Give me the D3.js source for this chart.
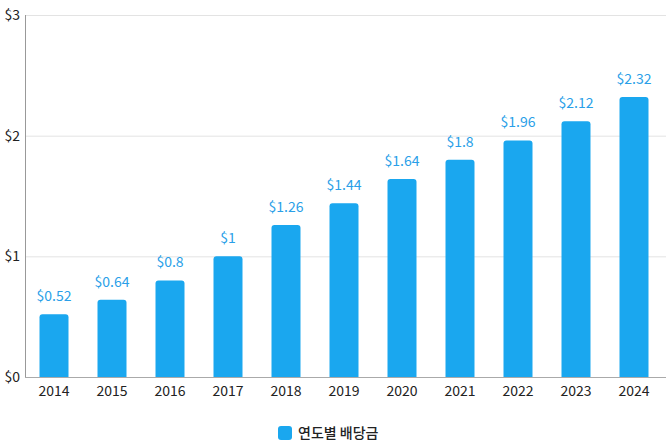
<!DOCTYPE html>
<html><head><meta charset="utf-8">
<script src="https://cdn.jsdelivr.net/npm/d3@7"></script>
<style>body{margin:0;background:#fff;} text{font-family:"Noto Sans CJK KR","Noto Sans",sans-serif;}</style>
</head><body>
<svg id="c" width="666" height="444"></svg>
<script>
const years = ["2014","2015","2016","2017","2018","2019","2020","2021","2022","2023","2024"];
const dividends = [0.52,0.64,0.8,1,1.26,1.44,1.64,1.8,1.96,2.12,2.32];
const yTicks = [0,1,2,3];
const seriesName = "연도별 배당금";

(function(){
const svg = d3.select("#c");
const mLeft = 25, mRight = 663, mTop = 15, mBottom = 377;
const x = d3.scaleBand().domain(years).range([mLeft, mRight]).paddingInner(0.5).paddingOuter(0.25);
const y = d3.scaleLinear().domain([0,3]).range([mBottom, mTop]);
const color = "#1aa7ef";
const ff = '"Noto Sans CJK KR","Noto Sans",sans-serif';

// grid
svg.append("g").selectAll("line").data(yTicks.filter(d=>d>0)).join("line")
  .attr("x1", mLeft).attr("x2", 666).attr("y1", d=>y(d)+0.5).attr("y2", d=>y(d)+0.5)
  .attr("stroke", "#e3e3e3").attr("stroke-width", 1);

// y axis
const ya = svg.append("g").attr("transform", `translate(${mLeft},0)`)
  .call(d3.axisLeft(y).tickValues(yTicks).tickFormat(d=>"$"+d).tickSize(0).tickPadding(5));
ya.select(".domain").attr("stroke", "#999").attr("d", `M0.5,${mTop}V${mBottom}`);
ya.selectAll("text").attr("font-size", 14).attr("fill", "#222").attr("x", -5)
  .attr("font-family", ff);

// bars
const r = 3;
svg.append("g").selectAll("path").data(dividends).join("path")
  .attr("fill", color)
  .attr("d", (d,i) => {
    const x0 = x(years[i]), w = x.bandwidth(), y0 = y(d), yb = y(0);
    return `M${x0},${yb}V${y0+r}Q${x0},${y0} ${x0+r},${y0}H${x0+w-r}Q${x0+w},${y0} ${x0+w},${y0+r}V${yb}Z`;
  });

// x axis
const xa = svg.append("g").attr("transform", `translate(0,${mBottom})`)
  .call(d3.axisBottom(x).tickSize(0).tickPadding(9));
xa.select(".domain").attr("stroke", "#aaa").attr("d", `M${mLeft},0.5H666`);
xa.selectAll("text").attr("font-size", 14).attr("fill", "#222")
  .attr("font-family", ff);

// value labels
svg.append("g").selectAll("text").data(dividends).join("text")
  .attr("x", (d,i)=>x(years[i]) + x.bandwidth()/2)
  .attr("y", d=>y(d) - 13)
  .attr("text-anchor", "middle").attr("font-size", 14).attr("fill", "#2a9fe8")
  .text(d=>"$"+d);

// legend
const lg = svg.append("g").attr("transform", "translate(278,426)");
lg.append("rect").attr("width", 14).attr("height", 14).attr("rx", 3).attr("fill", color);
lg.append("text").attr("x", 20).attr("y", 12).attr("font-size", 14).attr("font-weight", 500).attr("fill", "#222").text(seriesName);
})();
</script>
</body></html>
